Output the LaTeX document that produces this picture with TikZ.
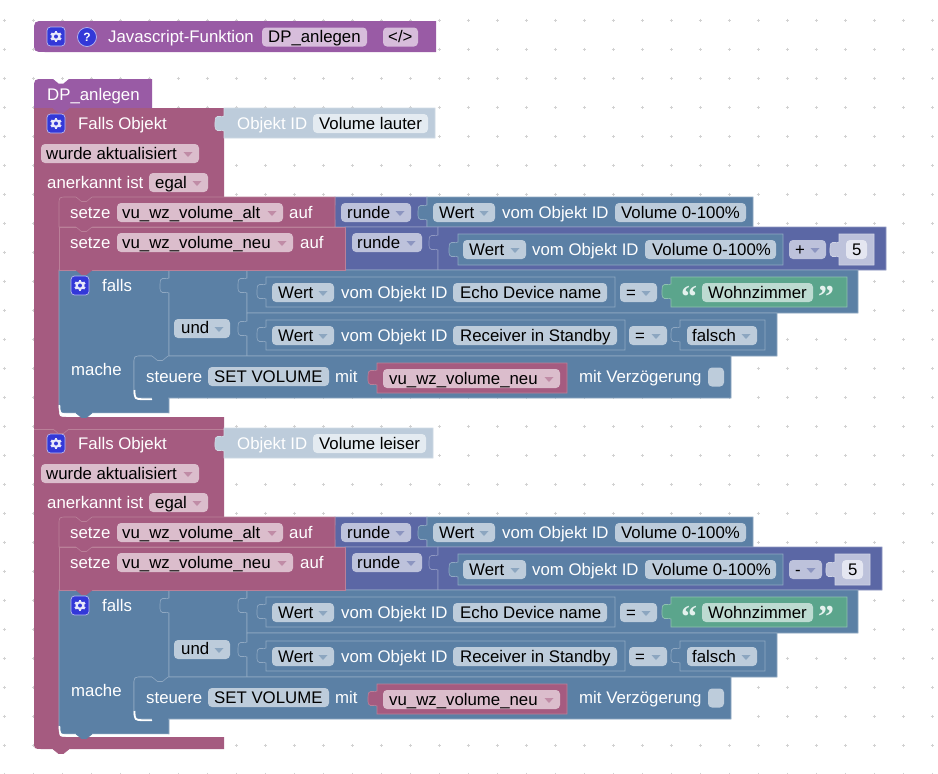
\documentclass[tikz,border=0pt]{standalone}
\usepackage{fontspec}
\setmainfont{Liberation Sans}
\newfontfamily\quotefont{Liberation Serif}
\definecolor{cpur}{HTML}{995BA5}\definecolor{lpur}{HTML}{C09AC8}\definecolor{fpur}{HTML}{D7BDDB}
\definecolor{cpin}{HTML}{A55B80}\definecolor{lpin}{HTML}{BA8099}\definecolor{fpin}{HTML}{DBBDCC}
\definecolor{cblu}{HTML}{5B80A5}\definecolor{lblu}{HTML}{8FA8C2}\definecolor{fblu}{HTML}{BDCCDB}
\definecolor{cmat}{HTML}{5B67A5}\definecolor{lmat}{HTML}{8F98C2}\definecolor{fmat}{HTML}{BDC2DB}
\definecolor{cgrn}{HTML}{5BA58C}\definecolor{lgrn}{HTML}{8FC2B0}\definecolor{fgrn}{HTML}{BDDBD1}
\definecolor{cshd}{HTML}{BDCCDB}\definecolor{lshd}{HTML}{D0DBE6}\definecolor{fshd}{HTML}{E4EBF1}
\definecolor{cnum}{HTML}{BDC2DB}\definecolor{lnum}{HTML}{D0D4E6}\definecolor{fnum}{HTML}{E4E6F1}
\definecolor{gearblue}{HTML}{3338D8}\definecolor{gridc}{HTML}{D2D2D2}
\newcounter{nn}
\tikzset{
  blk/.style={line width=0.65pt,line join=miter},
  lab/.style={anchor=base west,inner sep=0pt,font=\fontsize{16.8}{19}\selectfont},
}
% text: x, baseline y, colour, text
\newcommand{\tx}[4]{\stepcounter{nn}\node[lab,text=#3] (n\arabic{nn}) at (#1,#2) {#4};}
% plain field: x1,x2,y1,fill
\newcommand{\fldbox}[4]{\fill[#4,rounded corners=4pt] (#1,#3) rectangle (#2,#3+19);}
% dropdown: x1,x2,y1,fill,arrow colour
\newcommand{\ddn}[5]{\fldbox{#1}{#2}{#3}{#4}\fill[#5] (#2-15.5,#3+8) -- (#2-6.5,#3+8) -- (#2-11,#3+13) -- cycle;}
% block with value tab: x1,x2,y1,y2,tab top,fill,line
\newcommand{\vblk}[7]{\filldraw[blk,fill=#6,draw=#7] (#1,#3) -- (#2,#3) -- (#2,#4) -- (#1,#4) -- (#1,#5+15)
  .. controls (#1-3,#5+13) and (#1-6,#5+16.5) .. (#1-8.5,#5+13)
  .. controls (#1-9.5,#5+10) and (#1-9,#5+5) .. (#1-8.5,#5+2)
  .. controls (#1-6,#5-1.5) and (#1-3,#5+2) .. (#1,#5) -- cycle;}
% next-statement tab: x,y,fill,line
\newcommand{\ntab}[4]{\fill[#3] (#1,#2-1) -- (#1,#2) -- (#1+5.5,#2+4.5) -- (#1+10.5,#2+4.5) -- (#1+16,#2) -- (#1+16,#2-1) -- cycle;
  \draw[#4,line width=0.6pt] (#1,#2) -- (#1+5.5,#2+4.5) -- (#1+10.5,#2+4.5) -- (#1+16,#2);}
% gear: box x,y and size, fill
\newcommand{\gearbox}[2]{\filldraw[fill=gearblue,draw=white!65!gearblue,line width=0.7pt,rounded corners=3.5pt] (#1,#2) rectangle (#1+18,#2+19);
  \foreach \a in {0,60,...,300}{\draw[white!88!gearblue,line width=2.6pt] (#1+9,#2+9.5) -- ++(\a+30:5.7);}
  \fill[white!88!gearblue] (#1+9,#2+9.5) circle (4.5pt);
  \fill[gearblue] (#1+9,#2+9.5) circle (2pt);}
% group: y-extra, field name, objekt right, field right, op, op right, num block left, num block right, math right
\newcommand{\grp}[9]{%
  \def\ex{#1}
  % value rows first
  \vblk{224}{#3}{108}{138}{116}{cshd}{lshd}
  \fldbox{313}{#4}{114}{fshd}
  \tx{237}{129}{white}{Objekt ID}
  \tx{319}{129}{black}{#2}
  % setze 1 values
  \vblk{335}{427}{197}{227}{205}{cmat}{lmat}
  \vblk{427}{753}{197}{227}{205}{cblu}{lblu}
  % setze 2 values
  \vblk{345}{438}{227}{270}{235}{cmat}{lmat}
  \vblk{438}{#9}{227}{270}{235}{cmat}{lmat}
  \vblk{458}{783}{234}{265}{242}{cblu}{lblu}
  \vblk{#7}{#8}{234}{265}{242}{cnum}{lnum}
  % falls
  \filldraw[blk,fill=cblu,draw=lblu] (59,270) -- (169,270) -- (169,356+\ex) -- (142,356+\ex) .. controls (134,356+\ex) .. (134,364+\ex) -- (134,390+\ex) .. controls (134,398+\ex) .. (142,398+\ex) -- (169,398+\ex) -- (169,413+\ex) -- (67,413+\ex) .. controls (59,413+\ex) .. (59,405+\ex) -- cycle;
  \vblk{169}{247}{270}{356+\ex}{278}{cblu}{lblu}
  \vblk{247}{858}{270}{313}{278}{cblu}{lblu}
  \vblk{247}{777}{313}{356+\ex}{321+\ex}{cblu}{lblu}
  \vblk{266}{615}{277}{307}{284}{cblu}{lblu}
  \vblk{671}{847}{277}{307}{284}{cgrn}{lgrn}
  \vblk{266}{625}{320+\ex}{350+\ex}{327+\ex}{cblu}{lblu}
  \vblk{680}{765}{320+\ex}{350+\ex}{327+\ex}{cblu}{lblu}
  % steuere
  \filldraw[blk,fill=cblu,draw=lblu] (142,356+\ex) -- (731,356+\ex) -- (731,398+\ex) -- (142,398+\ex) .. controls (134,398+\ex) .. (134,390+\ex) -- (134,364+\ex) .. controls (134,356+\ex) .. (142,356+\ex) -- cycle;
  \draw[white,line width=1.8pt] (134.4,390+\ex) .. controls (134.8,399+\ex) .. (143,399.2+\ex) -- (152,399.2+\ex);
  \draw[white,line width=1.6pt] (59.4,405+\ex) .. controls (59.8,414+\ex) .. (67,414.2+\ex) -- (168.6,414.2+\ex);
  \vblk{377}{567}{363+\ex}{393+\ex}{370+\ex}{cpin}{lpin}
  % setze blocks
  \filldraw[blk,fill=cpin,draw=lpin] (67,197) -- (335,197) -- (335,227) -- (59,227) -- (59,205) .. controls (59,197) .. (67,197) -- cycle;
  \filldraw[blk,fill=cpin,draw=lpin] (59,227) -- (345,227) -- (345,270) -- (59,270) -- cycle;
  % notches
  \ntab{76}{197}{cpin}{lpin}
  \ntab{76}{227}{cpin}{lpin}
  \ntab{76}{270}{cpin}{cpin}
  \ntab{152}{356+\ex}{cblu}{lblu}
  \ntab{152}{398+\ex}{cblu}{cblu}
  \ntab{76}{413+\ex}{cblu}{cblu}
  % Falls Objekt labels
  \gearbox{47}{114}
  \tx{78}{129}{white}{Falls Objekt}
  \ddn{41}{199}{144}{fpin}{cpin!70!white}
  \tx{46}{159}{black}{wurde aktualisiert}
  \tx{47}{188}{white}{anerkannt ist}
  \ddn{149}{208}{173}{fpin}{cpin!70!white}
  \tx{155}{188}{black}{egal}
  % setze 1
  \tx{70}{218}{white}{setze}
  \ddn{117}{283}{203}{fpin}{cpin!70!white}
  \tx{122}{218}{black}{vu\_wz\_volume\_alt}
  \tx{289}{218}{white}{auf}
  \ddn{341}{411}{203}{fmat}{cmat!70!white}
  \tx{347}{218}{black}{runde}
  \ddn{433}{495}{203}{fblu}{cblu!70!white}
  \tx{439}{218}{black}{Wert}
  \tx{502}{218}{white}{vom Objekt ID}
  \fldbox{615}{746}{203}{fblu}
  \tx{621}{218}{black}{Volume 0-100\%}
  % setze 2
  \tx{70}{248}{white}{setze}
  \ddn{117}{293}{233}{fpin}{cpin!70!white}
  \tx{122}{248}{black}{vu\_wz\_volume\_neu}
  \tx{300}{248}{white}{auf}
  \ddn{352}{422}{233}{fmat}{cmat!70!white}
  \tx{357}{248}{black}{runde}
  \ddn{463}{526}{240}{fblu}{cblu!70!white}
  \tx{469}{255}{black}{Wert}
  \tx{532}{255}{white}{vom Objekt ID}
  \fldbox{645}{776}{240}{fblu}
  \tx{652}{255}{black}{Volume 0-100\%}
  \ddn{789}{#6}{240}{fmat}{cmat!70!white}
  \tx{795}{255}{black}{#5}
  \fldbox{#7+7}{#8-7}{240}{fnum}
  \pgfmathsetmacro{\numx}{#7+13}
  \tx{\numx}{255}{black}{5}
  % falls
  \gearbox{71}{276}
  \tx{102}{291}{white}{falls}
  \ddn{174}{230}{319+\ex}{fblu}{cblu!70!white}
  \tx{181}{333+\ex}{black}{und}
  \tx{71}{375+\ex}{white}{mache}
  % row 1
  \ddn{272}{334}{283}{fblu}{cblu!70!white}
  \tx{278}{298}{black}{Wert}
  \tx{341}{298}{white}{vom Objekt ID}
  \fldbox{453}{607}{283}{fblu}
  \tx{460}{298}{black}{Echo Device name}
  \ddn{620}{657}{283}{fblu}{cblu!70!white}
  \tx{626}{298}{black}{=}
  \stepcounter{nn}\node[anchor=base,inner sep=0pt,text=fgrn!40!white,font=\quotefont\bfseries\fontsize{32}{32}\selectfont] (n\arabic{nn}) at (689,307.5) {“};
  \fldbox{702}{813}{283}{fgrn}
  \tx{708}{298}{black}{Wohnzimmer}
  \stepcounter{nn}\node[anchor=base,inner sep=0pt,text=fgrn!40!white,font=\quotefont\bfseries\fontsize{32}{32}\selectfont] (n\arabic{nn}) at (826,307.5) {”};
  % row 2
  \ddn{272}{334}{326+\ex}{fblu}{cblu!70!white}
  \tx{278}{341+\ex}{black}{Wert}
  \tx{341}{341+\ex}{white}{vom Objekt ID}
  \fldbox{453}{617}{326+\ex}{fblu}
  \tx{460}{341+\ex}{black}{Receiver in Standby}
  \ddn{629}{667}{326+\ex}{fblu}{cblu!70!white}
  \tx{635}{341+\ex}{black}{=}
  \ddn{687}{757}{326+\ex}{fblu}{cblu!70!white}
  \tx{692}{341+\ex}{black}{falsch}
  % steuere
  \tx{146}{382+\ex}{white}{steuere}
  \fldbox{208}{329}{367+\ex}{fblu}
  \tx{214}{382+\ex}{black}{SET VOLUME}
  \tx{335}{382+\ex}{white}{mit}
  \ddn{383}{560}{369+\ex}{fpin}{cpin!70!white}
  \tx{389}{384+\ex}{black}{vu\_wz\_volume\_neu}
  \tx{579}{382+\ex}{white}{mit Verzögerung}
  \fldbox{708}{724}{367.5+\ex}{fblu}
}
\begin{document}
\begin{tikzpicture}[x=1pt,y=-1pt]
\useasboundingbox (0,0) rectangle (938,774);
\fill[white] (0,0) rectangle (938,774);
% grid
\foreach \i in {0,...,32}{\foreach \j in {0,...,26}{
  \draw[gridc,line width=0.5pt] ({4+29*\i-1.5},{20+29*\j}) -- ++(3,0) ({4+29*\i},{20+29*\j-1.5}) -- ++(0,3);
}}
% top definition block
\fill[cpur] (45,21) -- (436,21) -- (436,52) -- (45,52) .. controls (34,52) .. (34,41) -- (34,32) .. controls (34,21) .. (45,21) -- cycle;
\gearbox{47}{27}
\filldraw[fill=gearblue,draw=white!65!gearblue,line width=0.7pt] (87,37) circle (9.5pt);
\stepcounter{nn}\node[anchor=base,inner sep=0pt,text=white,font=\bfseries\fontsize{12}{12}\selectfont] (n\arabic{nn}) at (87,41.5) {?};
\tx{108}{42}{white}{Javascript-Funktion}
\fldbox{262}{367}{27.5}{fpur}
\tx{268}{42}{black}{DP\_anlegen}
\fldbox{383}{418}{27.5}{fpur}
\tx{388}{42}{black}{</>}
% function call block
\fill[cpur] (44,79) -- (53,79) -- (58.5,83.5) -- (63.5,83.5) -- (69,79) -- (152,79) -- (152,108) -- (34,108) -- (34,89) .. controls (34,79) .. (44,79) -- cycle;
\tx{47}{100}{white}{DP\_anlegen}
% outer pink C blocks
\fill[cpin] (34,108) -- (224,108) -- (224,197) -- (67,197) .. controls (59,197) .. (59,205) -- (59,409) .. controls (59,417) .. (67,417) -- (224,417) -- (224,429) -- (34,429) -- cycle;
\fill[cpin] (34,429) -- (224,429) -- (224,517) -- (67,517) .. controls (59,517) .. (59,525) -- (59,729) .. controls (59,737) .. (67,737) -- (224,737) -- (224,749) -- (42,749) .. controls (34,749) .. (34,741) -- cycle;
\draw[lpin,line width=0.6pt] (34,429) -- (224,429);
\grp{0}{Volume lauter}{435}{428}{+}{826}{839}{874}{886}
\begin{scope}[yshift=-320pt]
\grp{1}{Volume leiser}{433}{426}{-}{822}{835}{870}{882}
\end{scope}
% tabs of the outer blocks
\ntab{53}{108}{cpur}{cpur}
\ntab{53}{429}{cpin}{lpin}
\ntab{53}{749}{cpin}{cpin}
\end{tikzpicture}
\end{document}
